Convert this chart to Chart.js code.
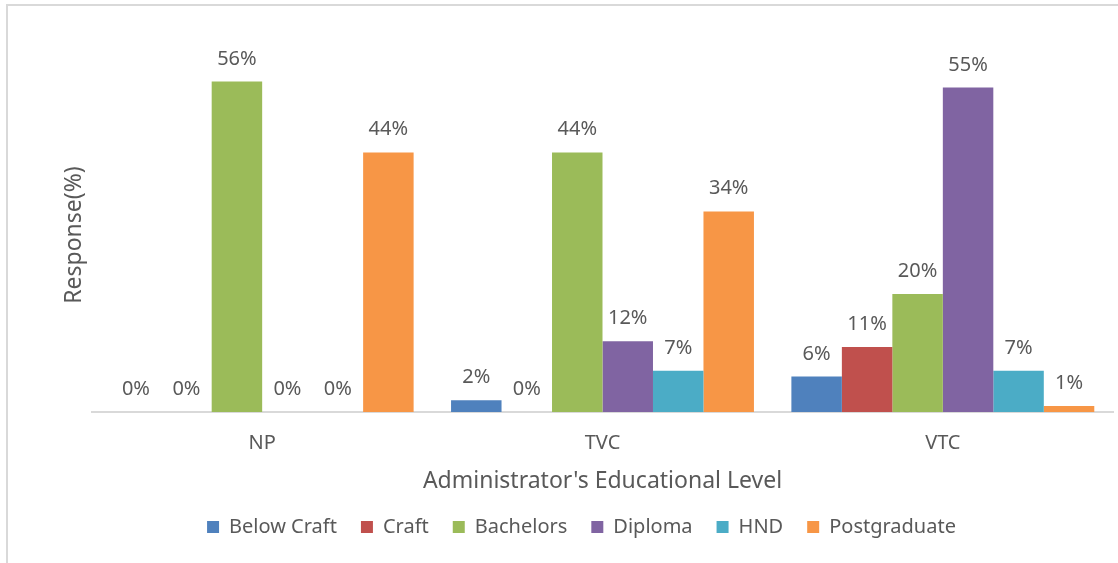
<!DOCTYPE html>
<html>
<head>
<meta charset="utf-8">
<script src="https://cdn.jsdelivr.net/npm/chart.js@4.4.1/dist/chart.umd.min.js"></script>
<style>
  html, body { margin: 0; padding: 0; background: #fff; overflow: hidden; }
  #wrap { position: relative; width: 1118px; height: 563px; }
  #frame { position: absolute; left: 6px; top: 4px; width: 1140px; height: 600px; border: 2px solid #d9d9d9; box-sizing: border-box; }
  canvas { position: absolute; left: 0; top: 0; }
</style>
</head>
<body>
<div id="wrap">
  <div id="frame"></div>
  <canvas id="bar-chart" width="1118" height="563"></canvas>
</div>
<script>
// categories on the x axis
var levels = ["NP", "TVC", "VTC"];

// one array per qualification, values in percent
var belowCraft   = [0, 2, 6];
var craft        = [0, 0, 11];
var bachelors    = [56, 44, 20];
var diploma      = [0, 12, 55];
var hnd          = [0, 7, 7];
var postgraduate = [44, 34, 1];

var textColor = "#595959";
var font = "'Noto Sans', 'Open Sans', sans-serif";

// draws the "56%" style labels over each bar
var valueLabels = {
  id: 'valueLabels',
  afterDatasetsDraw: function(chart) {
    var ctx = chart.ctx;
    ctx.save();
    ctx.font = "20px " + font;
    ctx.fillStyle = textColor;
    ctx.textAlign = "center";
    ctx.textBaseline = "alphabetic";
    chart.data.datasets.forEach(function(ds, i) {
      var meta = chart.getDatasetMeta(i);
      meta.data.forEach(function(bar, j) {
        ctx.fillText(ds.data[j] + "%", bar.x, bar.y - 17);
      });
    });
    ctx.restore();
  }
};

Chart.defaults.font.family = font;
Chart.defaults.color = textColor;

new Chart(document.getElementById("bar-chart"), {
  type: 'bar',
  data: {
    labels: levels,
    datasets: [
      { label: "Below Craft", data: belowCraft, backgroundColor: "#4f81bd" },
      { label: "Craft", data: craft, backgroundColor: "#c0504d" },
      { label: "Bachelors", data: bachelors, backgroundColor: "#9bbb59" },
      { label: "Diploma", data: diploma, backgroundColor: "#8064a2" },
      { label: "HND", data: hnd, backgroundColor: "#4bacc6" },
      { label: "Postgraduate", data: postgraduate, backgroundColor: "#f79646" }
    ]
  },
  options: {
    responsive: false,
    animation: false,
    categoryPercentage: 0.89,
    barPercentage: 1.0,
    layout: {
      padding: { left: 50, right: 5, top: 58, bottom: 23 }
    },
    plugins: {
      legend: {
        position: 'bottom',
        maxHeight: 47,
        labels: {
          boxWidth: 12,
          boxHeight: 12,
          padding: 24,
          color: textColor,
          font: { size: 20, family: font }
        }
      },
      tooltip: { enabled: false }
    },
    scales: {
      x: {
        grid: { display: false, drawTicks: false },
        border: { display: true, color: "#d9d9d9", width: 2 },
        ticks: { padding: 19, color: textColor, font: { size: 20, family: font } },
        title: {
          display: true,
          text: "Administrator's Educational Level",
          color: textColor,
          font: { size: 23, family: font },
          padding: { top: -6.8, bottom: -1.8 }
        }
      },
      y: {
        min: 0,
        max: 60,
        grid: { display: false, drawTicks: false },
        border: { display: false },
        ticks: { display: false },
        title: {
          display: true,
          text: "Response(%)",
          color: textColor,
          font: { size: 23, family: font },
          padding: { top: 10.2, bottom: 4.2 }
        }
      }
    }
  },
  plugins: [valueLabels]
});
</script>
</body>
</html>
